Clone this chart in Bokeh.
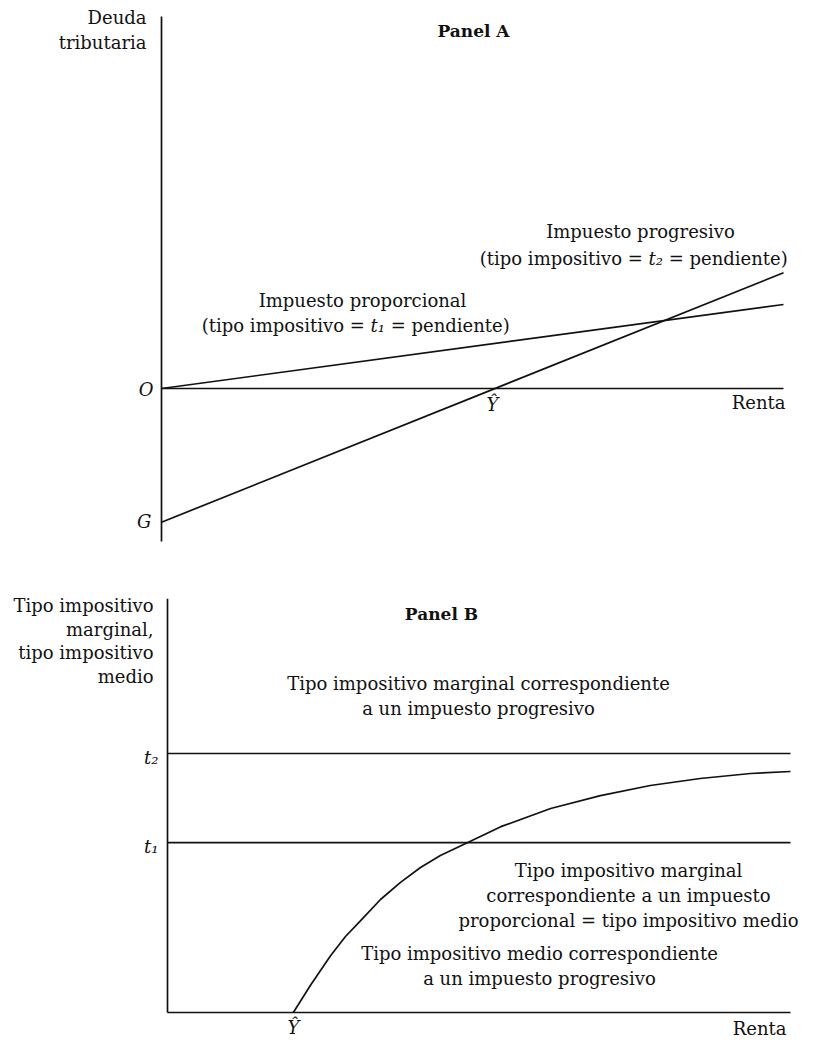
from bokeh.plotting import figure
from bokeh.models import Label, Range1d
from bokeh.layouts import column
from bokeh.embed import file_html
from bokeh.resources import INLINE

# ---------------- data ----------------
# Panel A: tax liability vs income
renta_a = [0, 100]
impuesto_proporcional = [0, 13.5]      # t1 * Y
impuesto_progresivo = [-21.5, 18.6]    # -G + t2 * Y
eje_deuda = [-24.6, 59.8]              # extent of the vertical axis
cero_a = [0, 0]

# Panel B: marginal / average tax rates vs income
renta_b = [0, 100]
t1 = 0.2625
t2 = 0.40
medio_x = [20.2, 22.95, 26.2, 28.57, 31.0, 34.19, 37.4, 40.61, 43.8, 48.2,
           53.5, 61.5, 69.5, 77.5, 85.5, 93.6, 100.0]
medio_y = [0.0, 0.042, 0.088, 0.1174, 0.142, 0.1745, 0.201, 0.2239, 0.2425, 0.2625,
           0.287, 0.315, 0.335, 0.3506, 0.3614, 0.3691, 0.3722]
eje_tipo = [0, 0.639]
cero_b = [0, 0]

# ---------------- layout helpers (pixel -> data) ----------------
FONT = "DejaVu Serif"
FS = "18px"
INK = "#111111"
LW = 1.7

A_OX, A_OY, A_S = 161.0, 388.0, 6.22
B_OX, B_OY, B_SX, B_SY = 167.0, 1012.0, 6.23, 647.5
W = 814
HA_TOP, HA_BOT = 0, 560
HB_TOP, HB_BOT = 560, 1039


def ax(px):
    return (px - A_OX) / A_S


def ay(py):
    return (A_OY - py) / A_S


def bx(px):
    return (px - B_OX) / B_SX


def by(py):
    return (B_OY - py) / B_SY


def make_fig(xr, yr, h):
    p = figure(width=W, height=h, x_range=Range1d(*xr), y_range=Range1d(*yr),
               output_backend="svg", toolbar_location=None,
               x_axis_location=None, y_axis_location=None, min_border=0)
    p.outline_line_color = None
    p.xgrid.grid_line_color = None
    p.ygrid.grid_line_color = None
    p.background_fill_color = "white"
    p.border_fill_color = "white"
    return p


def lab(p, x, y, text, align="center", style="normal", size=FS):
    p.add_layout(Label(x=x, y=y, text=text, text_font=FONT, text_font_size=size,
                       text_font_style=style, text_align=align,
                       text_baseline="middle", text_color=INK))


def rate_label(p, fx, fy, cx, py, sub):
    # "(tipo impositivo = t_i = pendiente)" with an italic t
    em = 18.0
    w1 = 9.087 * em
    gap = 0.318 * em
    wt = 0.80 * em
    w3 = 6.612 * em
    total = w1 + gap + wt + gap + w3
    start = cx - total / 2
    lab(p, fx(start + w1), fy(py), "(tipo impositivo =", align="right")
    lab(p, fx(start + w1 + gap), fy(py), "t" + sub, align="left", style="italic")
    lab(p, fx(start + w1 + gap + wt + gap), fy(py), "= pendiente)", align="left")


# ---------------- Panel A ----------------
pa = make_fig((ax(0), ax(W)), (ay(HA_BOT), ay(HA_TOP)), HA_BOT - HA_TOP)

pa.line([0, 0], eje_deuda, line_color=INK, line_width=LW)
pa.line(renta_a, cero_a, line_color=INK, line_width=LW)
pa.line(renta_a, impuesto_proporcional, line_color=INK, line_width=LW)
pa.line(renta_a, impuesto_progresivo, line_color=INK, line_width=LW)

lab(pa, ax(146), ay(17), "Deuda", align="right")
lab(pa, ax(146), ay(42), "tributaria", align="right")
lab(pa, ax(473), ay(30), "Panel A", style="bold", size="17px")
lab(pa, ax(153), ay(389), "O", align="right", style="italic")
lab(pa, ax(151), ay(521), "G", align="right", style="italic")
lab(pa, ax(785), ay(402), "Renta", align="right")
lab(pa, ax(492), ay(404), "Ŷ", style="italic")
lab(pa, ax(362), ay(300), "Impuesto proporcional")
rate_label(pa, ax, ay, 355, 325, "₁")
lab(pa, ax(640), ay(231), "Impuesto progresivo")
rate_label(pa, ax, ay, 633, 258, "₂")

# ---------------- Panel B ----------------
pb = make_fig((bx(0), bx(W)), (by(HB_BOT), by(HB_TOP)), HB_BOT - HB_TOP)

pb.line([0, 0], eje_tipo, line_color=INK, line_width=LW)
pb.line(renta_b, cero_b, line_color=INK, line_width=LW)
pb.line(renta_b, [t2, t2], line_color=INK, line_width=LW)
pb.line(renta_b, [t1, t1], line_color=INK, line_width=LW)
pb.line(medio_x, medio_y, line_color=INK, line_width=LW, line_join="round")

for txt, py in [("Tipo impositivo", 605), ("marginal,", 629),
                ("tipo impositivo", 652), ("medio", 676)]:
    lab(pb, bx(153), by(py), txt, align="right")
lab(pb, bx(441), by(613), "Panel B", style="bold", size="17px")
lab(pb, bx(478), by(683), "Tipo impositivo marginal correspondiente")
lab(pb, bx(478), by(708), "a un impuesto progresivo")
lab(pb, bx(158), by(757), "t₂", align="right", style="italic")
lab(pb, bx(158), by(846), "t₁", align="right", style="italic")
lab(pb, bx(628), by(870), "Tipo impositivo marginal")
lab(pb, bx(628), by(895), "correspondiente a un impuesto")
lab(pb, bx(628), by(920), "proporcional = tipo impositivo medio")
lab(pb, bx(539), by(953), "Tipo impositivo medio correspondiente")
lab(pb, bx(539), by(978), "a un impuesto progresivo")
lab(pb, bx(293), by(1027), "Ŷ", style="italic")
lab(pb, bx(786), by(1028), "Renta", align="right")

layout = column(pa, pb, spacing=0)
open("out.html", "w").write(file_html(layout, INLINE))
